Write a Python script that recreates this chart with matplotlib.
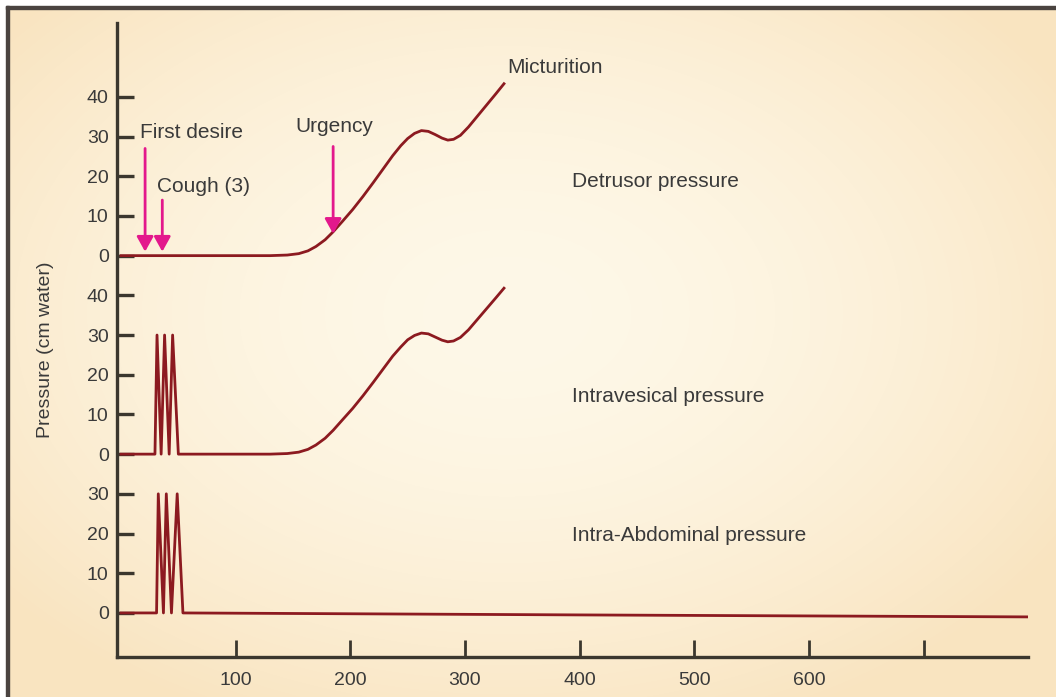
import numpy as np
import matplotlib
matplotlib.use('Agg')
import matplotlib.pyplot as plt
from matplotlib.patches import Rectangle

plt.rcParams['font.family'] = ['Liberation Sans', 'DejaVu Sans']

# time (s) and pressure (cm water) for each trace
fill_x = [0, 130, 145, 155, 163, 170, 178, 185, 193, 202, 211, 220, 229, 237, 244,
          250, 256, 262, 268, 274, 280, 285, 290, 296, 303, 311, 319, 327, 334]
det_y = [0, 0, 0.15, 0.5, 1.2, 2.3, 4.0, 6.0, 8.6, 11.6, 14.9, 18.4, 22.0, 25.2, 27.7,
         29.5, 30.8, 31.5, 31.3, 30.5, 29.6, 29.1, 29.3, 30.3, 32.4, 35.2, 38.0, 40.8, 43.3]

cough_x = [0, 29.6, 31.4, 35, 38, 42, 45, 50]
cough_y = [0, 0, 30, 0, 30, 0, 30, 0]
ves_y = [0, 0, 0.15, 0.5, 1.2, 2.3, 4.0, 6.0, 8.6, 11.5, 14.7, 18.1, 21.6, 24.7, 27.0,
         28.8, 29.9, 30.5, 30.3, 29.5, 28.7, 28.3, 28.5, 29.4, 31.3, 34.0, 36.7, 39.4, 41.8]

abd_x = [0, 31, 32.5, 37, 39.5, 44, 49, 54, 400, 792]
abd_y = [0, 0, 30, 0, 30, 0, 30, 0, -0.5, -1]

# vertical offsets stacking the three traces on one axis
abd_base = 0
ves_base = 40
det_base = 90

abd_ticks = [0, 10, 20, 30]
ves_ticks = [0, 10, 20, 30, 40]
det_ticks = [0, 10, 20, 30, 40]

x_ticks = [100, 200, 300, 400, 500, 600, 700]
x_labels = ['100', '200', '300', '400', '500', '600', '']

# event markers: (label, x, arrow tail, arrow tip, label x, label y)
events = [
    ('First desire', 21, 117, 91, 16.5, 121),
    ('Cough (3)', 36, 104, 91, 31.5, 107.5),
    ('Urgency', 185, 117.5, 95.5, 152.5, 122.5),
]

trace_names = ['Detrusor pressure', 'Intravesical pressure', 'Intra-Abdominal pressure']
trace_name_y = [108.8, 54.4, 19.4]

line_c = '#8c1a20'
axis_c = '#3b372e'
text_c = '#3a3a3a'
arrow_c = '#e3188c'

fig = plt.figure(figsize=(10.56, 6.97), dpi=100)

# warm radial backdrop with a dark frame on top and left
bg = fig.add_axes([0, 0, 1, 1], zorder=-1)
bg.axis('off')
h, w = 697, 1056
yy, xx = np.mgrid[0:h, 0:w]
r = np.sqrt(((xx - 0.48 * w) / (0.62 * w)) ** 2 + ((yy - 0.45 * h) / (0.64 * h)) ** 2)
t = np.clip(r, 0, 1) ** 1.8
c0 = np.array([254, 248, 232]) / 255
c1 = np.array([249, 228, 192]) / 255
img = c0 + (c1 - c0) * t[..., None]
bg.imshow(img, extent=[0, 1, 0, 1], aspect='auto')
bg.set_xlim(0, 1)
bg.set_ylim(0, 1)
bg.add_patch(Rectangle((0, 1 - 6 / h), 1, 6 / h, color='white', transform=bg.transAxes))
bg.add_patch(Rectangle((0, 0), 6 / w, 1, color='white', transform=bg.transAxes))
bg.add_patch(Rectangle((6 / w, 1 - 9 / h), 1, 3 / h, color='#4a4340', transform=bg.transAxes))
bg.add_patch(Rectangle((6 / w, 0), 3 / w, 1 - 6 / h, color='#4a4340', transform=bg.transAxes))

ax = fig.add_axes([117 / w, 40 / h, 911 / w, 634 / h])
ax.set_facecolor('none')

ax.plot(fill_x, np.array(det_y) + det_base, color=line_c, lw=2.0)
ax.plot(cough_x + fill_x[1:], np.array(cough_y + ves_y[1:]) + ves_base, color=line_c, lw=2.0)
ax.plot(abd_x, np.array(abd_y) + abd_base, color=line_c, lw=2.0)

for label, x, y0, y1, tx, ty in events:
    ax.annotate('', xy=(x, y1), xytext=(x, y0),
                arrowprops=dict(arrowstyle='-|>,head_length=0.9,head_width=0.5',
                                color=arrow_c, lw=2.0, shrinkA=0, shrinkB=0,
                                mutation_scale=10))
    ax.text(tx, ty, label, fontsize=15, color=text_c, ha='left', va='center')

ax.text(336.5, 137.5, 'Micturition', fontsize=15, color=text_c, ha='left', va='center')
for name, ny in zip(trace_names, trace_name_y):
    ax.text(393, ny, name, fontsize=15, color=text_c, ha='left', va='center')

ax.set_xlim(-3.5, 791)
ax.set_ylim(-11.1, 148.6)

yt = [abd_base + v for v in abd_ticks] + [ves_base + v for v in ves_ticks] + [det_base + v for v in det_ticks]
yl = [str(v) for v in abd_ticks + ves_ticks + det_ticks]
ax.set_yticks(yt)
ax.set_yticklabels(yl)
ax.set_xticks(x_ticks)
ax.set_xticklabels(x_labels)

ax.tick_params(axis='y', direction='in', length=12, width=2.4, color=axis_c,
               labelsize=14, labelcolor=text_c, pad=6)
ax.tick_params(axis='x', direction='in', length=12, width=2.0, color=axis_c,
               labelsize=14, labelcolor=text_c, pad=11)

for s in ['top', 'right']:
    ax.spines[s].set_visible(False)
for s in ['left', 'bottom']:
    ax.spines[s].set_color(axis_c)
    ax.spines[s].set_linewidth(2.4)

ax.set_ylabel('Pressure (cm water)', fontsize=14, color=text_c)
ax.yaxis.set_label_coords(-0.069, 0.485)

fig.savefig('out.png', dpi=100)
